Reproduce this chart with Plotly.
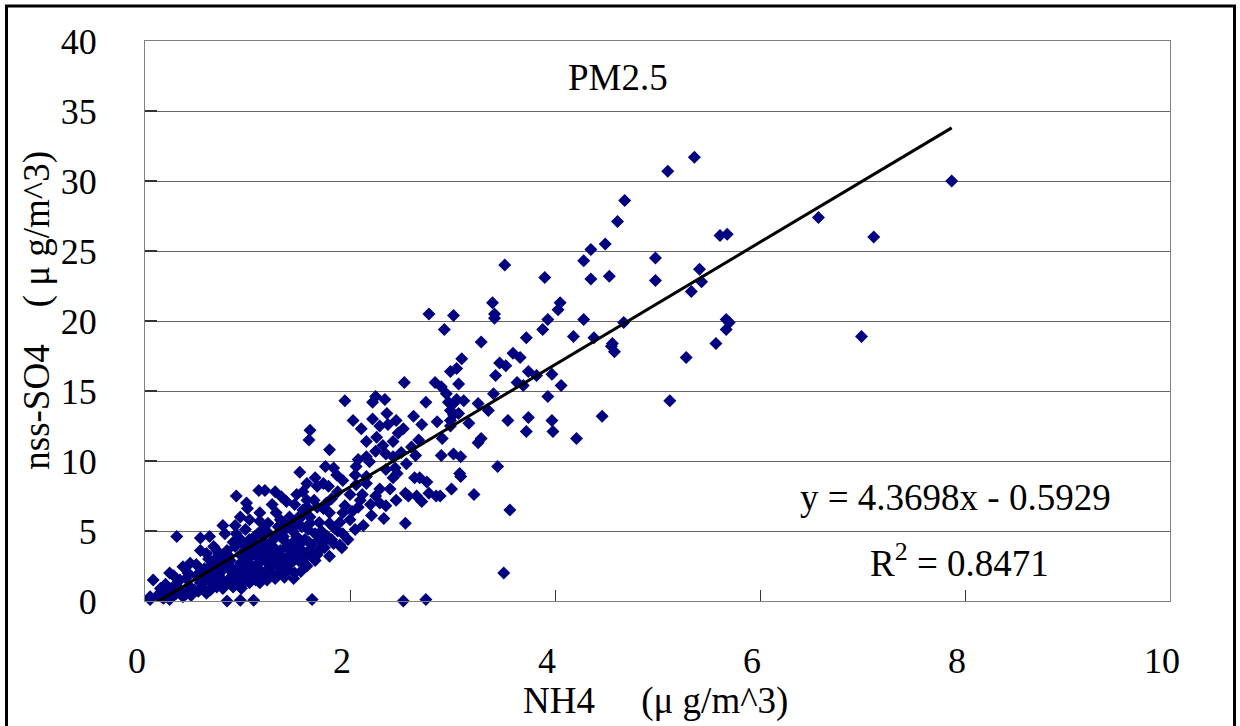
import plotly.graph_objects as go

# NH4 vs nss-SO4 (PM2.5)
nh4 = [
    5.36, 5.10, 4.68, 4.61, 4.49, 4.53, 4.98, 4.98, 5.61, 5.68, 5.41, 5.43, 5.33, 6.57, 7.11, 7.87,
    4.67, 4.56, 4.58, 5.67, 5.70, 5.67, 5.57, 5.28, 6.99, 5.12, 4.46,
    4.35, 4.28, 3.51, 3.90, 4.35, 3.39, 3.41, 3.41, 4.05, 4.03, 3.01, 3.93, 4.28, 2.92, 3.88,
    3.72, 4.18, 4.38, 4.55, 3.28, 3.09, 2.98, 3.04, 2.89, 3.06, 3.46, 3.52, 3.42, 3.59, 3.66,
    3.74, 3.82, 3.63, 3.69, 3.97, 4.06, 3.40, 3.93, 2.96, 3.11, 2.98, 3.06, 2.98, 3.25, 3.35,
    3.16, 3.54, 3.74, 3.72, 3.97, 3.98, 4.21, 2.90, 3.28, 3.25, 2.89, 3.01, 3.08, 3.44, 3.07,
    3.08, 2.99, 3.21, 2.88, 3.56, 3.50, 2.77,
    2.53, 1.95, 2.22, 2.25, 2.34, 2.74, 2.83, 2.03, 2.11, 2.22, 2.36, 2.37, 2.62, 2.29, 2.52,
    1.61, 1.60, 1.80, 2.16, 2.26, 2.32, 2.42, 2.47, 2.67, 2.98, 3.01, 3.04, 2.16, 2.08, 2.06,
    2.19, 2.42, 2.44, 2.64, 1.51, 1.76, 1.84, 1.87, 1.66, 1.74, 1.79, 1.68, 1.93, 2.05, 2.16,
    2.16, 2.06, 2.29, 2.39, 2.42, 2.46, 2.63, 2.68, 2.75, 2.65, 2.70, 2.77, 2.84, 2.54, 2.57,
    1.48, 1.54, 1.46, 1.58, 1.68, 1.74, 1.61, 1.61, 1.77, 1.80, 1.80, 1.93, 2.00, 2.20, 2.21,
    2.29, 2.33, 2.13, 2.54, 2.05, 1.93, 1.84, 1.92, 1.43, 1.51, 1.63, 1.45, 1.68, 1.66, 1.45,
    1.63, 2.52, 2.74, 1.50, 1.56, 2.94, 3.01,
    0.89, 0.99, 1.00, 1.11, 1.17, 1.27, 1.33, 1.38, 1.58, 0.31, 0.54, 0.63, 0.76, 0.88, 0.78,
    0.89, 0.98, 1.07, 1.07, 1.12, 1.20, 1.28, 1.32, 1.38, 1.35, 1.38, 1.56, 0.24, 0.37, 0.44,
    0.54, 0.60, 0.67, 0.72, 0.80, 0.88, 0.93, 0.99, 0.93, 1.02, 1.14, 1.22, 1.25, 1.19, 1.09,
    0.83, 0.73, 0.63, 0.54, 0.44, 0.34, 0.24, 0.15, 0.08, 0.05, 0.05, 0.80, 0.93, 1.06, 0.70,
    0.86, 1.02, 1.19, 1.32, 1.38, 0.93, 0.76, 0.34, 0.28, 0.37, 0.24, 0.60, 0.54, 0.63, 0.73,
    0.83, 1.02, 1.15, 1.25, 1.19, 1.09, 1.32, 1.41, 1.28, 1.38, 1.48, 1.48, 1.41, 1.51, 1.54,
    1.58, 1.24, 1.12, 1.02, 0.93, 1.32, 1.53, 1.59,
    0.12, 0.18, 0.20, 0.28, 0.30, 0.40, 0.42, 0.48, 0.50, 0.50, 0.56, 0.58, 0.62, 0.66, 0.68,
    0.70, 0.75, 0.78, 0.80, 0.82, 0.85, 0.86, 0.90, 0.92, 0.95, 0.96, 0.98, 1.00, 1.04, 1.05,
    1.08, 1.10, 1.12, 1.14, 1.15, 1.17, 1.20, 1.22, 1.24, 1.26, 1.28, 1.30, 1.34, 1.36, 1.40,
    1.42, 1.44, 1.46, 1.50, 1.52, 1.55, 1.60, 1.70, 1.72, 1.75, 1.85, 1.90, 1.95, 1.82, 1.65,
    1.70, 1.78, 1.58, 1.52, 1.98, 2.02, 2.10, 2.08, 1.88, 2.00,
    2.35, 2.50, 2.55, 2.60, 2.25, 2.35, 2.85, 2.70, 2.45, 2.12, 2.25, 2.35, 2.45,
    0.45, 0.52, 0.58, 0.64, 0.68, 0.72, 0.76, 0.82, 0.88, 0.90, 0.94, 0.98, 1.00, 1.04, 1.08,
    1.12, 1.16, 1.18, 1.20, 1.24, 1.27, 1.30, 1.33, 1.36, 1.40, 1.44, 1.46, 1.50, 1.55, 1.58,
    1.60, 1.64, 1.66, 1.70, 1.74, 1.80, 1.82, 1.88, 1.90, 0.60, 0.66, 0.70, 0.78, 0.84, 0.96,
    1.06, 1.10, 1.16, 1.22, 1.30, 1.36, 1.44, 1.46, 1.00, 0.40, 0.30, 0.20, 0.16,
]
so4 = [
    31.7, 30.7, 28.6, 27.1, 25.5, 23.2, 24.5, 22.9, 26.1, 26.2, 23.7, 22.8, 22.1, 27.4, 26.0, 30.0,
    19.9, 18.4, 17.8, 20.1, 19.9, 19.4, 18.4, 17.4, 18.9, 14.3, 13.2,
    25.1, 24.3, 24.0, 23.1, 23.0, 21.3, 20.5, 20.2, 21.3, 20.8, 20.4, 20.1, 20.1, 19.4, 19.4,
    18.8, 18.9, 18.8, 18.2, 18.5, 17.3, 16.4, 16.6, 15.3, 15.5, 17.0, 16.8, 16.1, 17.7, 17.4,
    16.4, 16.1, 15.6, 15.4, 16.2, 15.4, 14.8, 14.6, 14.2, 14.3, 13.6, 13.4, 12.9, 14.1, 13.6,
    12.7, 12.9, 13.1, 12.1, 12.9, 12.1, 11.6, 11.6, 11.6, 11.3, 10.4, 10.5, 10.3, 9.6, 9.1,
    8.9, 8.0, 7.6, 7.5, 6.5, 2.0, 20.5,
    15.6, 14.3, 14.2, 14.6, 14.4, 14.2, 15.6, 12.9, 12.3, 13.0, 13.4, 12.6, 13.2, 12.5, 12.3,
    12.2, 11.5, 10.8, 11.4, 11.7, 11.1, 11.4, 12.0, 11.5, 12.5, 13.3, 14.4, 10.3, 10.1, 9.6,
    9.95, 10.3, 9.5, 10.4, 9.2, 9.6, 9.5, 9.0, 8.8, 8.4, 8.2, 8.2, 8.6, 9.0, 8.9,
    8.4, 8.3, 8.0, 8.0, 8.8, 9.1, 8.8, 8.8, 8.5, 7.5, 7.1, 7.7, 7.5, 7.7, 7.5,
    7.6, 7.8, 6.9, 6.7, 6.7, 6.6, 6.0, 5.55, 7.0, 6.3, 5.55, 6.3, 5.8, 6.9, 6.1,
    7.0, 5.9, 5.4, 5.55, 5.1, 4.8, 4.1, 3.8, 4.0, 4.1, 4.0, 3.5, 3.3, 2.9, 1.6,
    0.1, 0.0, 0.1, 6.0, 6.4, 14.8, 14.1,
    7.5, 7.0, 6.6, 7.9, 7.9, 7.8, 7.45, 7.1, 8.4, 4.6, 4.5, 4.6, 5.4, 5.4, 4.8,
    4.8, 5.1, 4.6, 4.2, 5.7, 5.55, 6.3, 5.8, 5.2, 4.6, 3.9, 4.4, 2.0, 2.45, 2.7,
    3.6, 3.4, 3.9, 3.3, 3.6, 3.9, 3.3, 3.6, 2.7, 2.7, 2.9, 2.45, 3.4, 3.6, 2.0,
    2.2, 2.0, 1.5, 1.3, 1.0, 0.8, 0.55, 0.9, 1.5, 0.3, 0.1, 0.0, 0.05, 0.05, 1.0,
    1.0, 1.3, 1.5, 2.0, 2.45, 1.5, 1.5, 1.5, 1.0, 0.3, 0.1, 0.55, 2.0, 2.45, 2.7,
    2.9, 4.4, 4.6, 4.4, 4.95, 3.8, 3.6, 3.3, 2.9, 2.9, 3.4, 4.6, 6.0, 5.9, 6.5,
    7.2, 6.9, 6.3, 5.8, 6.0, 4.8, 5.3, 5.1,
    0.4, 0.2, 1.2, 1.8, 0.5, 1.6, 2.0, 0.8, 1.8, 2.6, 1.0, 2.3, 3.0, 1.2, 2.2,
    3.1, 2.4, 1.2, 2.6, 3.2, 1.8, 4.2, 2.3, 4.5, 1.2, 2.0, 3.0, 1.8, 2.3, 3.3,
    1.5, 3.1, 2.2, 3.5, 1.8, 4.1, 2.7, 3.2, 2.0, 3.8, 4.6, 2.5, 3.1, 4.3, 2.6,
    3.8, 5.0, 4.3, 2.9, 3.7, 3.0, 3.6, 4.4, 5.0, 3.8, 5.2, 5.6, 6.8, 7.3, 7.2,
    5.6, 4.6, 2.5, 2.1, 4.4, 6.4, 7.2, 6.7, 7.8, 7.6,
    9.4, 10.6, 9.8, 11.0, 10.7, 10.5, 12.8, 12.6, 12.9, 7.6, 7.5, 6.8, 7.2,
    0.4, 0.7, 1.4, 0.8, 1.7, 1.3, 0.9, 1.5, 1.3, 1.9, 0.9, 1.5, 2.4, 1.7, 2.5,
    1.3, 2.0, 2.9, 1.9, 2.6, 1.6, 3.3, 2.3, 1.7, 2.2, 2.8, 2.0, 3.1, 2.7, 3.3,
    4.2, 3.2, 4.8, 3.6, 4.2, 3.2, 4.4, 5.0, 4.0, 2.0, 2.6, 3.6, 3.0, 2.4, 4.0,
    3.6, 4.8, 5.2, 4.0, 5.3, 5.6, 3.9, 5.4, 3.2, 0.5, 1.2, 0.7, 0.3,
]

# Excel linear trendline shown on the chart
slope = 4.3698
intercept = -0.5929
fit_x = [min(nh4), max(nh4)]
fit_y = [slope * v + intercept for v in fit_x]

x_ticks = [0, 2, 4, 6, 8, 10]
y_ticks = [0, 5, 10, 15, 20, 25, 30, 35, 40]

serif = 'Liberation Serif'
font = dict(family=serif, size=36, color='black')

fig = go.Figure()

fig.add_trace(go.Scatter(
    x=nh4, y=so4, mode='markers',
    marker=dict(symbol='diamond', size=10, color='#000080', line=dict(width=0)),
    cliponaxis=False, showlegend=False, hoverinfo='x+y'))

fig.add_trace(go.Scatter(
    x=fit_x, y=fit_y, mode='lines',
    line=dict(color='black', width=3), showlegend=False, hoverinfo='skip'))

fig.update_xaxes(
    range=[0, 10], tickvals=x_ticks,
    ticktext=[str(v) + '\u00a0\u2009' for v in x_ticks],
    ticks='inside', ticklen=11, tickwidth=1, tickcolor='#333333',
    showgrid=False, zeroline=False,
    showline=True, linecolor='#808080', linewidth=1, mirror=True,
    tickfont=font, ticklabelstandoff=28)

fig.update_yaxes(
    range=[0, 40], tickvals=y_ticks,
    ticks='inside', ticklen=12, tickwidth=1.5, tickcolor='#333333',
    showgrid=True, gridcolor='#666666', gridwidth=1, zeroline=False,
    showline=True, linecolor='#808080', linewidth=1, mirror=True,
    tickfont=font, ticklabelstandoff=40)

ann = dict(xref='paper', yref='paper', showarrow=False, xanchor='center', yanchor='middle',
           font=dict(family=serif, size=37, color='black'))

fig.update_layout(
    width=1240, height=726,
    margin=dict(l=145, r=70, t=41, b=125),
    paper_bgcolor='white', plot_bgcolor='white',
    font=font,
    annotations=[
        dict(ann, text='PM2.5', x=0.4615, y=0.934),
        dict(ann, text='y = 4.3698x - 0.5929', x=0.791, y=0.1857),
        dict(ann, text='R<sup>2</sup> = 0.8471', x=0.795, y=0.0732),
        dict(ann, text='NH4' + '\u00a0' * 5 + '(\u03bc g/m^3)', x=0.4985, y=-0.179),
        dict(ann, text='nss-SO4' + '\u00a0' * 4 + '(\u00a0\u03bc g/m^3)', x=-0.1054, y=0.52,
             textangle=-90),
    ],
    shapes=[
        # outer chart frame
        dict(type='rect', xref='paper', yref='paper',
             x0=(6.5 - 145) / 1025, x1=(1234.5 - 145) / 1025,
             y0=(601 - 740) / 560, y1=(601 - 6) / 560,
             line=dict(color='black', width=3), fillcolor='rgba(0,0,0,0)', layer='below'),
    ],
)

# page body has a default 8px margin; drop it so the figure sits at the window corner
fig.write_html("out.html", config={'displayModeBar': False},
               post_script="document.body.style.margin='0';")
